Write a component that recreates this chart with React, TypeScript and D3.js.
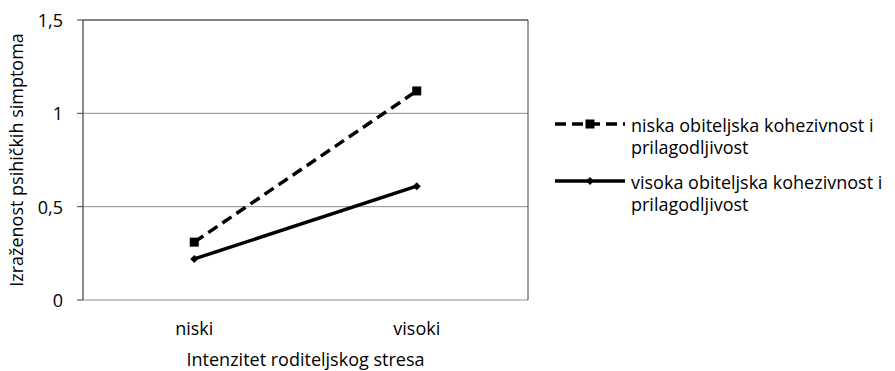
import React from "react";
import * as d3 from "d3";

const categories = ["niski", "visoki"];
const seriesNames = [
  ["niska obiteljska kohezivnost i", "prilagodljivost"],
  ["visoka obiteljska kohezivnost i", "prilagodljivost"],
];
const niskaValues = [0.31, 1.12];
const visokaValues = [0.22, 0.61];
const yTicks = [0, 0.5, 1, 1.5];
const yTickLabels = ["0", "0,5", "1", "1,5"];
const yTitle = "Izraženost psihičkih simptoma";
const xTitle = "Intenzitet roditeljskog stresa";

const W = 895;
const H = 371;
const FONT = "'Open Sans', sans-serif";
const FS = 18;

export default function App() {
  const left = 83, right = 528, top = 20, bottom = 300;
  const x = d3.scaleBand<string>().domain(categories).range([left, right]);
  const y = d3.scaleLinear().domain([0, 1.5]).range([bottom, top]);
  const cx = (c: string) => (x(c) as number) + x.bandwidth() / 2;
  const line = d3
    .line<number>()
    .x((_, i) => cx(categories[i]))
    .y((v) => y(v));

  const series = [
    { values: niskaValues, dash: "11,6", marker: "square", names: seriesNames[0] },
    { values: visokaValues, dash: null, marker: "diamond", names: seriesNames[1] },
  ];

  const marker = (kind: string, px: number, py: number, key: string) =>
    kind === "square" ? (
      <rect key={key} x={px - 4.5} y={py - 4.5} width={9} height={9} fill="#000" />
    ) : (
      <path key={key} d={`M${px - 4},${py} L${px},${py - 4} L${px + 4},${py} L${px},${py + 4} Z`} fill="#000" />
    );

  return (
    <svg width={W} height={H} style={{ position: "absolute", left: 0, top: 0, background: "#fff" }}>
      <rect x={0} y={0} width={W} height={H} fill="#fff" />
      {yTicks.map((t) => (
        <line key={"g" + t} x1={left} x2={right} y1={y(t)} y2={y(t)} stroke="#8c8c8c" strokeWidth={1} />
      ))}
      <line x1={left} x2={right} y1={top} y2={top} stroke="#404040" strokeWidth={1} />
      <line x1={right} x2={right} y1={top} y2={bottom} stroke="#404040" strokeWidth={1} />
      <line x1={left} x2={left} y1={top} y2={bottom} stroke="#404040" strokeWidth={1.2} />
      {yTicks.map((t, i) => (
        <g key={"t" + t}>
          <line x1={left - 6} x2={left} y1={y(t)} y2={y(t)} stroke="#404040" />
          <text x={left - 20} y={y(t) + 7} textAnchor="end" fontFamily={FONT} fontSize={FS} fill="#000">
            {yTickLabels[i]}
          </text>
        </g>
      ))}
      {categories.map((c) => (
        <text key={c} x={cx(c)} y={335} textAnchor="middle" fontFamily={FONT} fontSize={FS} fill="#000">
          {c}
        </text>
      ))}
      <text x={(left + right) / 2} y={366} textAnchor="middle" fontFamily={FONT} fontSize={FS} fill="#000">
        {xTitle}
      </text>
      <text
        transform={`translate(23,${(top + bottom) / 2}) rotate(-90)`}
        textAnchor="middle"
        fontFamily={FONT}
        fontSize={FS}
        fill="#000"
      >
        {yTitle}
      </text>
      {series.map((s, si) => (
        <g key={"s" + si}>
          <path d={line(s.values) as string} fill="none" stroke="#000" strokeWidth={3.5} strokeDasharray={s.dash ?? undefined} />
          {s.values.map((v, i) => marker(s.marker, cx(categories[i]), y(v), `m${si}-${i}`))}
        </g>
      ))}
      {series.map((s, si) => {
        const ly = 124 + si * 57;
        return (
          <g key={"l" + si}>
            <line x1={555} x2={625} y1={ly} y2={ly} stroke="#000" strokeWidth={3.5} strokeDasharray={s.dash ?? undefined} />
            {marker(s.marker, 590, ly, "lm" + si)}
            {s.names.map((n, j) => (
              <text key={j} x={631} y={ly + 8 + j * 22} fontFamily={FONT} fontSize={FS} fill="#000">
                {n}
              </text>
            ))}
          </g>
        );
      })}
    </svg>
  );
}
